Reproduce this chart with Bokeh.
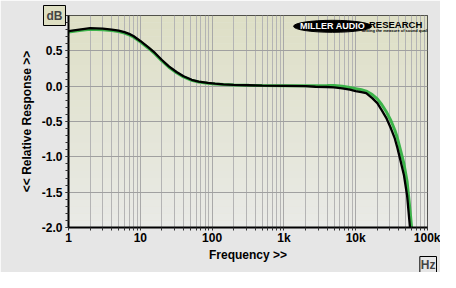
from bokeh.plotting import figure
from bokeh.models import FixedTicker, Label, Range1d, Title
from bokeh.embed import file_html
from bokeh.resources import INLINE

# ---- data ----
freq_black = [1, 1.5, 2, 3, 4, 5, 6, 7, 8, 10, 13, 16, 20, 25, 32, 40, 52, 65, 87,
              110, 144, 200, 325, 500, 1000, 2000, 2750, 4000, 5000, 6500, 8300,
              10000, 12000, 14000, 17000, 20000, 23000, 27000, 31000, 35000,
              38000, 42000, 47000, 52000, 57000]
resp_black = [0.78, 0.805, 0.82, 0.815, 0.80, 0.785, 0.765, 0.74, 0.71, 0.64, 0.55,
              0.47, 0.37, 0.28, 0.20, 0.14, 0.09, 0.065, 0.048,
              0.035, 0.026, 0.018, 0.013, 0.008, 0.004, 0.0, -0.008, -0.012,
              -0.017, -0.03, -0.05, -0.07, -0.085, -0.10, -0.17, -0.24, -0.34,
              -0.46, -0.60, -0.74, -0.87, -1.05, -1.26, -1.55, -2.0]

freq_green = [1, 1.5, 2, 3, 4, 5, 6, 7, 8, 10, 13, 16, 20, 25, 32, 40, 52, 65, 87,
              110, 144, 200, 325, 500, 1000, 2000, 2750, 4000, 5000, 6500, 8300,
              10000, 12000, 14000, 17000, 20000, 23000, 27000, 31000, 35000,
              38000, 42000, 47000, 52000, 57000, 60000]
resp_green = [0.765, 0.79, 0.805, 0.80, 0.787, 0.772, 0.752, 0.727, 0.697, 0.627, 0.537,
              0.457, 0.357, 0.268, 0.19, 0.13, 0.082, 0.058, 0.042,
              0.03, 0.022, 0.016, 0.012, 0.009, 0.007, 0.006, 0.006, 0.008,
              0.01, 0.0, -0.02, -0.035, -0.05, -0.07, -0.12, -0.18, -0.26,
              -0.37, -0.49, -0.62, -0.73, -0.90, -1.10, -1.35, -1.75, -2.0]

x_ticks = [1, 10, 100, 1000, 10000, 100000]
x_tick_labels = ["1", "10", "100", "1k", "10k", "100k"]
y_ticks = [-2.0, -1.5, -1.0, -0.5, 0.0, 0.5, 1.0]
y_tick_labels = ["-2.0", "-1.5", "-1.0", "-0.5", "0.0", "0.5", "1.0"]

FONT = "Liberation Sans"

p = figure(width=440, height=272, x_axis_type="log",
           x_range=Range1d(1, 100000), y_range=Range1d(-2.0, 1.0),
           output_backend="svg", toolbar_location=None,
           min_border_left=68, min_border_right=13, min_border_top=15,
           min_border_bottom=45)

p.border_fill_color = "#e6e6e6"
p.background_fill_color = "#e4e5d6"
p.outline_line_color = "#222222"
p.outline_line_width = 1

# gradient background bands (top greenish-beige -> bottom light grey)
top = (0xDE, 0xDF, 0xC6)
bot = (0xE9, 0xEA, 0xE6)
n = 30
lows, highs, cols = [], [], []
for i in range(n):
    t = i / (n - 1)
    c = tuple(int(round(top[k] * (1 - t) + bot[k] * t)) for k in range(3))
    hi = 1.0 - 3.0 * i / n
    lo = 1.0 - 3.0 * (i + 1) / n
    lows.append(lo)
    highs.append(hi)
    cols.append("#%02x%02x%02x" % c)
p.quad(left=1, right=100000, bottom=lows, top=highs, fill_color=cols,
       line_color=None, level="underlay")

# ticks
minor = []
for d in [1, 10, 100, 1000, 10000]:
    for m in range(2, 10):
        minor.append(d * m)
p.xaxis.ticker = FixedTicker(ticks=x_ticks, minor_ticks=minor)
p.xaxis.major_label_overrides = {t: l for t, l in zip(x_ticks, x_tick_labels)}
y_minor = [round(-2.0 + 0.1 * i, 2) for i in range(31)]
p.yaxis.ticker = FixedTicker(ticks=y_ticks, minor_ticks=y_minor)
p.yaxis.major_label_overrides = {t: l for t, l in zip(y_ticks, y_tick_labels)}

for ax in (p.xaxis[0], p.yaxis[0]):
    ax.axis_line_color = "black"
    ax.axis_line_width = 2
    ax.major_tick_line_color = "#333333"
    ax.minor_tick_line_color = "#333333"
    ax.major_tick_out = 3
    ax.major_tick_in = 0
    ax.minor_tick_out = 3
    ax.minor_tick_in = 0
    ax.major_label_text_font = FONT
    ax.major_label_text_font_style = "bold"
    ax.major_label_text_font_size = "12px"
    ax.major_label_text_color = "black"
    ax.axis_label_text_font = FONT
    ax.axis_label_text_font_style = "bold"
    ax.axis_label_text_font_size = "12px"
    ax.axis_label_text_color = "black"

p.xaxis.axis_label = "Frequency >>"
p.xaxis.axis_label_standoff = 0
p.xaxis.major_label_standoff = 0
p.yaxis.axis_label = "<< Relative Response >>"
p.yaxis.axis_label_standoff = 5
p.yaxis.major_label_standoff = 3

p.xgrid.grid_line_color = "#a9a9a9"
p.xgrid.grid_line_width = 1
p.xgrid.minor_grid_line_color = "#b4b4b4"
p.xgrid.minor_grid_line_width = 1
p.ygrid.grid_line_color = "#a0a0a0"
p.ygrid.grid_line_width = 1

# curves
p.line(freq_green, resp_green, line_color="#3cb44a", line_width=3)
p.line(freq_black, resp_black, line_color="black", line_width=2.3)

# logo
p.ellipse(x=[4760], y=[0.847], width=[78], height=[12], width_units="screen",
          height_units="screen", fill_color="black", line_color="black")
p.add_layout(Label(x=4760, y=0.847, text="MILLER AUDIO", text_color="white",
                   text_font=FONT, text_font_style="bold", text_font_size="9px",
                   text_align="center", text_baseline="middle"))
p.add_layout(Label(x=15300, y=0.872, text="RESEARCH", text_color="black",
                   text_font=FONT, text_font_style="bold", text_font_size="9.5px",
                   text_align="left", text_baseline="middle"))
p.add_layout(Label(x=12000, y=0.787, text="Setting the measure of sound quality",
                   text_color="black", text_font=FONT, text_font_style="bold",
                   text_font_size="4px", text_align="left", text_baseline="middle"))

# unit boxes as titles in the side panels (collapsed to zero height)
p.add_layout(Title(text="dB", align="left", offset=-25, standoff=-22,
                   vertical_align="middle",
                   text_font=FONT, text_font_style="bold", text_font_size="12px",
                   background_fill_color="#dedfc2", border_line_color="black",
                   border_line_width=1, padding=3), "above")
p.add_layout(Title(text="Hz", align="right", offset=-9, standoff=-18,
                   vertical_align="middle",
                   text_font=FONT, text_font_style="bold", text_font_size="12px",
                   background_fill_color="#e6e6e6", border_line_color="black",
                   border_line_width=1, padding=1), "below")

open("out.html", "w").write(file_html(p, INLINE))
